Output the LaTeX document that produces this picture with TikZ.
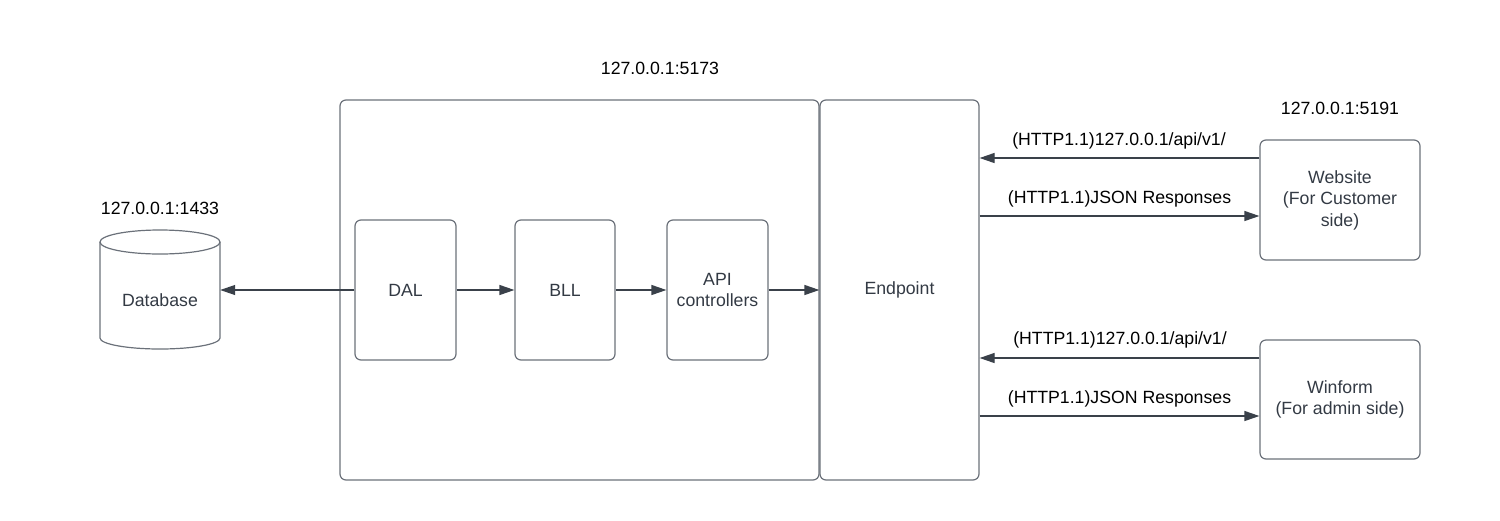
\documentclass[tikz,border=0pt]{standalone}
\usepackage{fontspec}
\setmainfont{Liberation Sans}
\usetikzlibrary{arrows.meta}
\definecolor{edgec}{HTML}{3A414A}
\definecolor{borderc}{HTML}{6B717A}
\definecolor{txtc}{HTML}{333A44}
\begin{document}
\begin{tikzpicture}[x=1pt,y=-1pt,
  font=\fontsize{17.7}{21.5}\selectfont,
  box/.style={draw=borderc, line width=1.2pt, rounded corners=6pt, align=center, text=txtc, inner sep=0pt},
  arr/.style={draw=edgec, line width=1.2pt, -{Triangle[length=15pt,width=10pt]}},
  lbl/.style={text=black, inner sep=0pt},
  cyl/.style={draw=borderc, line width=1.2pt}]
\useasboundingbox (0,0) rectangle (1500,520);

% containers
\node[box, minimum width=479pt, minimum height=380pt] (core) at (579.5,290) {};
\node[box, minimum width=159pt, minimum height=380pt] (endpoint) at (899.5,290) {Endpoint};

% layers
\node[box, minimum width=101pt, minimum height=140pt] (dal) at (405.5,290) {DAL};
\node[box, minimum width=100pt, minimum height=140pt] (bll) at (565,290) {BLL};
\node[box, minimum width=101pt, minimum height=140pt] (api) at (717.5,290) {API\\controllers};

% clients
\node[box, minimum width=160pt, minimum height=120pt] (website) at (1340,200) {Website\\(For Customer\\side)};
\node[box, minimum width=160pt, minimum height=119pt] (winform) at (1340,399.5) {Winform\\(For admin side)};

% database cylinder
\draw[cyl] (160,242) ellipse[x radius=60pt, y radius=12pt];
\draw[cyl] (100,242) -- (100,338) arc[start angle=180, end angle=360, x radius=60pt, y radius=11pt] -- (220,242);
\node[inner sep=0pt, minimum width=120pt, text=txtc] (db) at (160,300) {Database};

% address labels
\node[lbl] (a5173) at (660,68) {127.0.0.1:5173};
\node[lbl] (a1433) at (160,208) {127.0.0.1:1433};
\node[lbl] (a5191) at (1340,108) {127.0.0.1:5191};

% internal arrows
\draw[arr] (dal.west) -- (dal.west -| db.east);
\draw[arr] (dal.east) -- (bll.west);
\draw[arr] (bll.east) -- (api.west);
\draw[arr] (api.east) -- (endpoint.west);

% website arrows
\coordinate (w1) at ([yshift=42pt]website.west);
\coordinate (w2) at ([yshift=-16pt]website.west);
\draw[arr] (w1) -- (w1 -| endpoint.east);
\draw[arr] (w2 -| endpoint.east) -- (w2);
\node[lbl] (lw1) at (1119,141) {(HTTP1.1)127.0.0.1/api/v1/};
\node[lbl] (lw2) at (1119.5,199) {(HTTP1.1)JSON Responses};

% winform arrows
\coordinate (f1) at ([yshift=41.5pt]winform.west);
\coordinate (f2) at ([yshift=-16.5pt]winform.west);
\draw[arr] (f1) -- (f1 -| endpoint.east);
\draw[arr] (f2 -| endpoint.east) -- (f2);
\node[lbl] (lf1) at (1120,340) {(HTTP1.1)127.0.0.1/api/v1/};
\node[lbl] (lf2) at (1119.5,399) {(HTTP1.1)JSON Responses};
\end{tikzpicture}
\end{document}
